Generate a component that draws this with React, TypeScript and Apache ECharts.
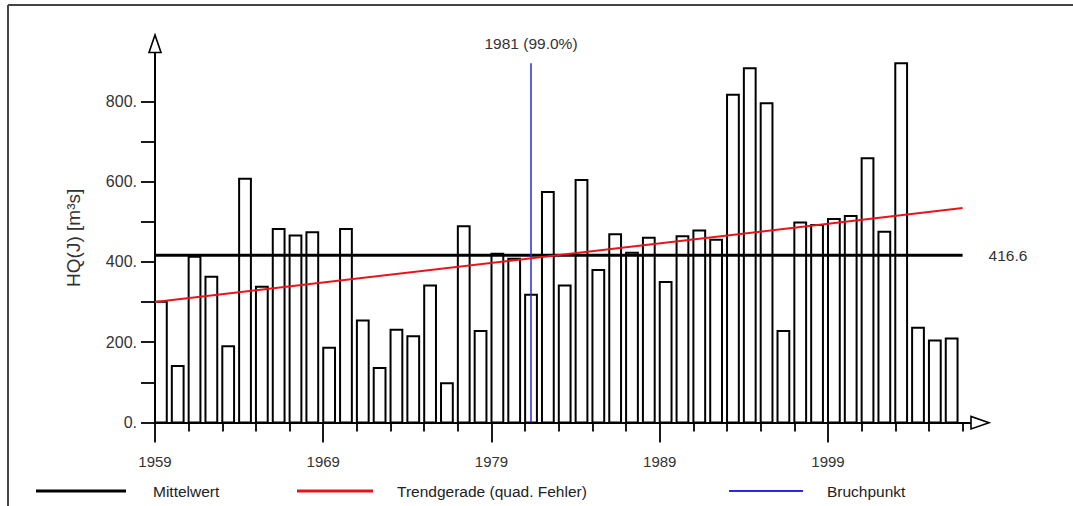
import React, { useEffect, useRef } from "react";
import * as echarts from "echarts";

const years = [
  1959, 1960, 1961, 1962, 1963, 1964, 1965, 1966, 1967, 1968,
  1969, 1970, 1971, 1972, 1973, 1974, 1975, 1976, 1977, 1978,
  1979, 1980, 1981, 1982, 1983, 1984, 1985, 1986, 1987, 1988,
  1989, 1990, 1991, 1992, 1993, 1994, 1995, 1996, 1997, 1998,
  1999, 2000, 2001, 2002, 2003, 2004, 2005, 2006,
];
const hq = [
  301, 141, 413, 363, 190, 607, 338, 482, 466, 474,
  186, 482, 254, 136, 231, 215, 341, 98, 489, 228,
  420, 408, 318, 574, 341, 604, 380, 469, 423, 460,
  350, 464, 478, 455, 816, 882, 795, 228, 498, 492,
  507, 514, 658, 475, 895, 236, 204, 209,
];
const meanValue = 416.6;
const meanLabel = "416.6";
const trendYears = [1959, 2007];
const trendValues = [300, 534];
const breakYear = 1981;
const breakTop = 895;
const breakLabel = "1981 (99.0%)";
const xMajorTicks = [1959, 1969, 1979, 1989, 1999];
const xMinorTicks = [
  1961, 1963, 1965, 1967, 1971, 1973, 1975, 1977, 1981, 1983, 1985, 1987,
  1991, 1993, 1995, 1997, 2001, 2003, 2005, 2007,
];
const yTicks = [0, 100, 200, 300, 400, 500, 600, 700, 800];
const yLabels = [0, 200, 400, 600, 800];
const legendNames = ["Mittelwert", "Trendgerade (quad. Fehler)", "Bruchpunkt"];

const FONT = "'Liberation Sans', Arial, Helvetica, sans-serif";
const BAR_W = 0.7;

export default function App() {
  const ref = useRef<HTMLDivElement>(null);
  useEffect(() => {
    if (!ref.current) return;
    const chart = echarts.init(ref.current, null, { renderer: "svg" });
    const bx = breakYear + BAR_W / 2;
    const option: any = {
      animation: false,
      backgroundColor: "#fff",
      grid: { left: 155, right: 102, top: 53.1, bottom: 83.5 },
      xAxis: [
        {
          type: "value",
          min: 1959,
          max: 2007.5,
          axisLine: { show: true, lineStyle: { color: "#000", width: 2 } },
          axisTick: {
            show: true,
            customValues: xMajorTicks,
            length: 20,
            lineStyle: { color: "#000", width: 1.8 },
          },
          axisLabel: {
            show: true,
            customValues: xMajorTicks,
            margin: 31,
            fontSize: 15,
            color: "#333",
            fontFamily: FONT,
            formatter: (v: number) => String(v),
          },
          splitLine: { show: false },
        },
        {
          type: "value",
          min: 1959,
          max: 2007.5,
          position: "bottom",
          axisLine: { show: false },
          axisTick: {
            show: true,
            customValues: xMinorTicks,
            length: 9,
            lineStyle: { color: "#000", width: 1.8 },
          },
          axisLabel: { show: false },
          splitLine: { show: false },
        },
      ],
      yAxis: {
        type: "value",
        min: 0,
        max: 920,
        name: "HQ(J) [m³s]",
        nameLocation: "middle",
        nameRotate: 90,
        nameGap: 72,
        nameTextStyle: { fontSize: 19, color: "#333", fontFamily: FONT },
        axisLine: { show: true, lineStyle: { color: "#000", width: 2 } },
        axisTick: {
          show: true,
          customValues: yTicks,
          length: 14,
          lineStyle: { color: "#000", width: 1.8 },
        },
        axisLabel: {
          show: true,
          customValues: yLabels,
          margin: 18,
          fontSize: 16,
          color: "#333",
          fontFamily: FONT,
          formatter: (v: number) => v + ".",
        },
        splitLine: { show: false },
      },
      series: [
        {
          type: "custom",
          name: "HQ",
          xAxisIndex: 0,
          z: 2,
          data: years.map((y, i) => [y, hq[i]]),
          renderItem: (params: any, api: any) => {
            const x0 = api.value(0);
            const v = api.value(1);
            const p1 = api.coord([x0, v]);
            const p2 = api.coord([x0 + BAR_W, 0]);
            return {
              type: "rect",
              shape: { x: p1[0], y: p1[1], width: p2[0] - p1[0], height: p2[1] - p1[1] },
              style: { fill: "#fff", stroke: "#000", lineWidth: 2 },
            };
          },
        },
        {
          type: "line",
          name: legendNames[0],
          xAxisIndex: 0,
          z: 4,
          data: [
            [trendYears[0], meanValue],
            [trendYears[1], meanValue],
          ],
          showSymbol: false,
          lineStyle: { color: "#000", width: 3 },
          endLabel: {
            show: true,
            formatter: meanLabel,
            distance: 26,
            fontSize: 15.5,
            color: "#333",
            fontFamily: FONT,
          },
        },
        {
          type: "line",
          name: legendNames[1],
          xAxisIndex: 0,
          z: 5,
          data: trendYears.map((y, i) => [y, trendValues[i]]),
          showSymbol: false,
          lineStyle: { color: "#e8141c", width: 2 },
        },
        {
          type: "line",
          name: legendNames[2],
          xAxisIndex: 0,
          z: 6,
          data: [],
          markLine: {
            silent: true,
            symbol: "none",
            lineStyle: { color: "#2a2ad8", width: 1.5, type: "solid" },
            label: {
              show: true,
              position: "end",
              formatter: breakLabel,
              distance: 12,
              fontSize: 15.5,
              color: "#333",
              fontFamily: FONT,
            },
            data: [[{ coord: [bx, 0] }, { coord: [bx, breakTop] }]],
          },
        },
      ],
      graphic: [
        { type: "line", shape: { x1: 8, y1: 5, x2: 8, y2: 506 }, style: { stroke: "#444", lineWidth: 2 } },
        { type: "line", shape: { x1: 8, y1: 5, x2: 1073, y2: 5 }, style: { stroke: "#444", lineWidth: 2 } },
        {
          type: "polygon",
          shape: { points: [[149, 52.5], [161, 52.5], [155, 35]] },
          style: { fill: "#fff", stroke: "#000", lineWidth: 1.6 },
          z: 10,
        },
        {
          type: "polygon",
          shape: { points: [[971, 416.5], [971, 429], [989, 422.8]] },
          style: { fill: "#fff", stroke: "#000", lineWidth: 1.6 },
          z: 10,
        },
        { type: "line", shape: { x1: 36, y1: 491, x2: 126, y2: 491 }, style: { stroke: "#000", lineWidth: 3 } },
        {
          type: "text",
          x: 153,
          y: 491,
          style: { text: legendNames[0], fontSize: 15.5, fill: "#222", fontFamily: FONT, verticalAlign: "middle" },
        },
        { type: "line", shape: { x1: 297, y1: 491, x2: 373, y2: 491 }, style: { stroke: "#e8141c", lineWidth: 3 } },
        {
          type: "text",
          x: 397,
          y: 491,
          style: { text: legendNames[1], fontSize: 15.5, fill: "#222", fontFamily: FONT, verticalAlign: "middle" },
        },
        { type: "line", shape: { x1: 729, y1: 491, x2: 803, y2: 491 }, style: { stroke: "#2a2ad8", lineWidth: 2 } },
        {
          type: "text",
          x: 827,
          y: 491,
          style: { text: legendNames[2], fontSize: 15.5, fill: "#222", fontFamily: FONT, verticalAlign: "middle" },
        },
      ],
    };
    chart.setOption(option);
    return () => chart.dispose();
  }, []);
  return (
    <div
      ref={ref}
      style={{ position: "fixed", left: 0, top: 0, width: 1073, height: 506, background: "#fff" }}
    />
  );
}
